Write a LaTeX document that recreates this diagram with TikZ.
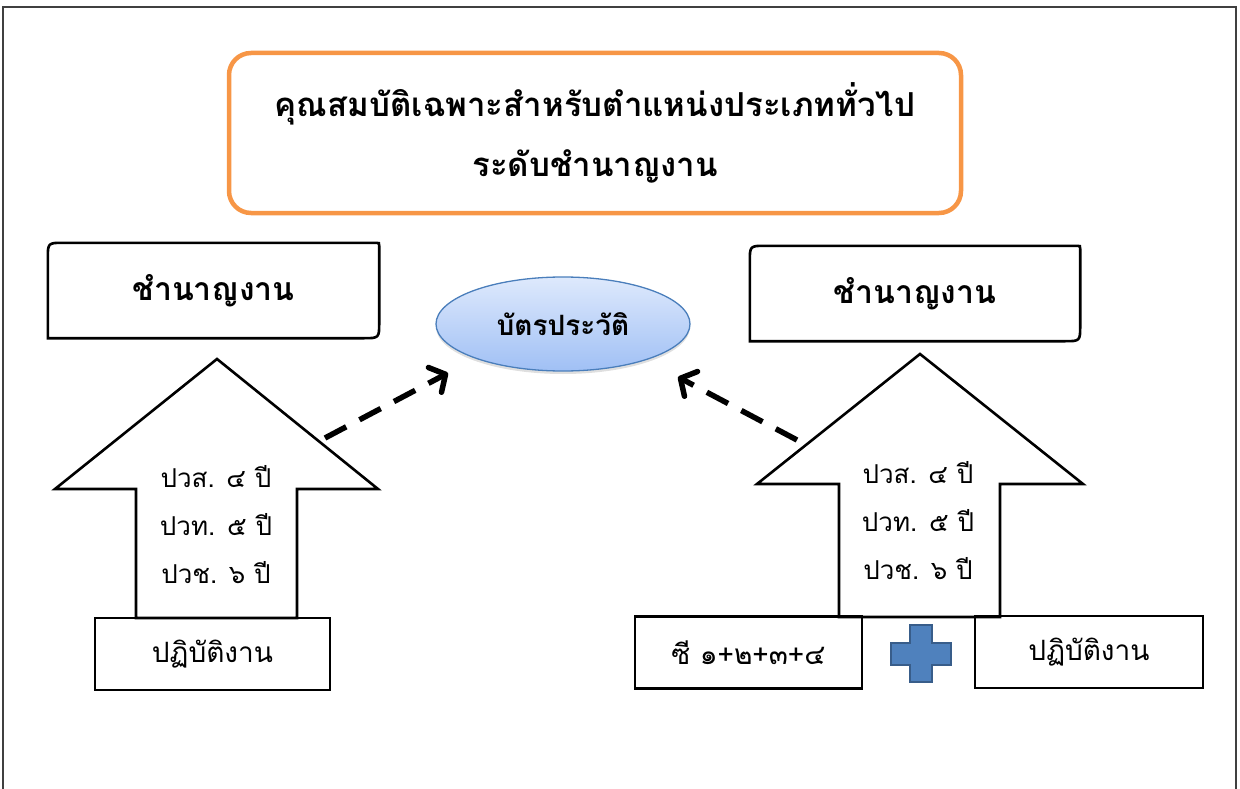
\documentclass[tikz,border=0pt]{standalone}
\usepackage{fontspec}
\setmainfont[Script=Thai]{Loma}
\usetikzlibrary{arrows.meta}
\usetikzlibrary{shapes.geometric}
\usetikzlibrary{shadows}
\usetikzlibrary{calc}
\definecolor{titleorange}{RGB}{247,150,70}
\definecolor{cardedge}{RGB}{74,126,187}
\definecolor{cardtop}{RGB}{222,233,252}
\definecolor{cardbottom}{RGB}{160,192,245}
\definecolor{plusfill}{RGB}{79,129,189}
\definecolor{plusedge}{RGB}{56,93,138}

\begin{document}
\begin{tikzpicture}[x=1pt, y=-1pt,
  headbox/.style={line width=2.6pt},
  blockarrow/.style={line width=2.6pt},
  plainbox/.style={draw, line width=2.6pt, minimum width=#1, minimum height=72,
    font=\fontsize{28}{30}\selectfont},
  headtext/.style={font=\bfseries\fontsize{32}{36}\selectfont},
  quals/.style={align=center, font=\fontsize{26}{48}\selectfont},
  dasharrow/.style={line width=5.5pt, dash pattern=on 24pt off 15pt,
    -{Straight Barb[length=12pt, width=28pt, line cap=round, line join=round]}}]
\useasboundingbox (0,0) rectangle (1240,789);
\draw[line width=1.2pt, black!75] (3,789) -- (3,7) -- (1236,7) -- (1236,789);

\node[draw=titleorange, line width=4.5pt, rounded corners=22, minimum width=732,
  minimum height=160, align=center, font=\bfseries\fontsize{33}{60}\selectfont]
  (title) at (595,133) {คุณสมบัติเฉพาะสำหรับตำแหน่งประเภททั่วไป\\ระดับชำนาญงาน};

\node[headtext, minimum width=331, minimum height=95] (lhead) at (213.5,290.5) {ชำนาญงาน};
\draw[headbox] (lhead.south west) -- ($(lhead.north west)+(0,16)$)
  .. controls (lhead.north west) .. ($(lhead.north west)+(16,0)$)
  -- ($(lhead.north east)+(-3,0)$) .. controls (lhead.north east) .. ($(lhead.north east)+(0,3)$)
  -- ($(lhead.south east)+(0,-16)$) .. controls (lhead.south east) .. ($(lhead.south east)+(-16,0)$)
  -- cycle;
\node[headtext, minimum width=330, minimum height=95] (rhead) at (915,293.5) {ชำนาญงาน};
\draw[headbox] (rhead.south west) -- ($(rhead.north west)+(0,16)$)
  .. controls (rhead.north west) .. ($(rhead.north west)+(16,0)$)
  -- ($(rhead.north east)+(-3,0)$) .. controls (rhead.north east) .. ($(rhead.north east)+(0,3)$)
  -- ($(rhead.south east)+(0,-16)$) .. controls (rhead.south east) .. ($(rhead.south east)+(-16,0)$)
  -- cycle;

\node[ellipse, draw=cardedge, line width=1.3pt, minimum width=254, minimum height=94,
  top color=cardtop, bottom color=cardbottom,
  drop shadow={opacity=0.25, shadow xshift=0pt, shadow yshift=-3pt},
  font=\bfseries\fontsize{28}{30}\selectfont] (card) at (563,324) {บัตรประวัติ};

\draw[blockarrow] (136,618) -- (136,489) -- (55,489) -- (217,359) -- (378,489)
  -- (297,489) -- (297,618) -- cycle;
\node[quals] (lquals) at (216,525) {ปวส. ๔ ปี\\ปวท. ๕ ปี\\ปวช. ๖ ปี};
\node[plainbox=235] (lwork) at (212.5,654) {ปฏิบัติงาน};

\draw[blockarrow] (839,617) -- (839,484) -- (757,484) -- (920,354) -- (1083,484)
  -- (1000,484) -- (1000,617) -- cycle;
\node[quals] (rquals) at (918,521) {ปวส. ๔ ปี\\ปวท. ๕ ปี\\ปวช. ๖ ปี};
\node[plainbox=227] (rcourse) at (748.5,652.5) {ซี ๑+๒+๓+๔};
\node[plainbox=228] (rwork) at (1089,652) {ปฏิบัติงาน};
\draw[fill=plusfill, draw=plusedge, line width=2pt]
  (910,625) -- (932,625) -- (932,643) -- (951,643) -- (951,665) -- (932,665)
  -- (932,682) -- (910,682) -- (910,665) -- (891,665) -- (891,643) -- (910,643) -- cycle;

\coordinate (lfrom) at (325,438);
\coordinate (lto) at (448,373);
\coordinate (rfrom) at (797,440);
\coordinate (rto) at (678,377);
\draw[dasharrow] (lfrom) -- (lto);
\draw[dasharrow] (rfrom) -- (rto);
\end{tikzpicture}
\end{document}
